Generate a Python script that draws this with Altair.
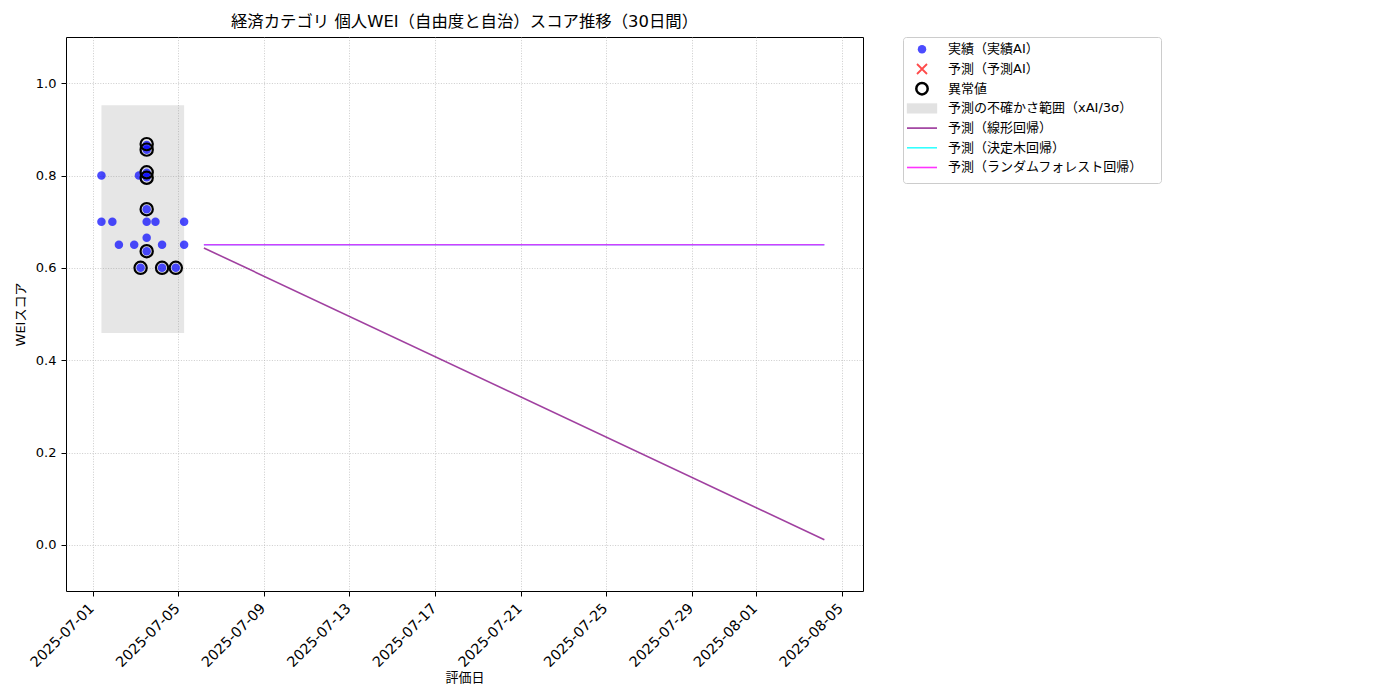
import altair as alt
import pandas as pd

FONT = "DejaVu Sans, Noto Sans CJK JP"

# ---- actual (実績AI) scores ----
actual_dates = [
    "2025-07-01T09:45:00", "2025-07-01T09:45:00", "2025-07-01T22:00:00",
    "2025-07-02T05:20:00", "2025-07-02T22:30:00", "2025-07-03T03:50:00",
    "2025-07-03T05:40:00", "2025-07-03T12:30:00", "2025-07-03T12:30:00",
    "2025-07-03T12:30:00", "2025-07-03T12:30:00", "2025-07-03T12:30:00",
    "2025-07-03T12:30:00", "2025-07-03T12:30:00", "2025-07-03T12:30:00",
    "2025-07-03T22:20:00", "2025-07-04T05:45:00", "2025-07-04T05:45:00",
    "2025-07-04T21:10:00", "2025-07-05T06:30:00", "2025-07-05T06:30:00",
]
actual_scores = [
    0.80, 0.70, 0.70,
    0.65, 0.65, 0.80,
    0.60, 0.866, 0.856,
    0.806, 0.796, 0.727,
    0.70, 0.665, 0.636,
    0.70, 0.65, 0.60,
    0.60, 0.70, 0.65,
]

# ---- anomalies (異常値) ----
anomaly_dates = [
    "2025-07-03T05:40:00", "2025-07-03T12:30:00", "2025-07-03T12:30:00",
    "2025-07-03T12:30:00", "2025-07-03T12:30:00", "2025-07-03T12:30:00",
    "2025-07-03T12:30:00", "2025-07-04T05:45:00", "2025-07-04T21:10:00",
]
anomaly_scores = [0.60, 0.868, 0.856, 0.807, 0.795, 0.727, 0.636, 0.60, 0.60]

# ---- uncertainty band (xAI / 3σ) ----
band_start = ["2025-07-01T09:45:00"]
band_end = ["2025-07-05T06:30:00"]
band_low = [0.459]
band_high = [0.952]

# ---- forecasts ----
forecast_dates = ["2025-07-06T04:40:00", "2025-08-04T04:40:00"]
linear_pred = [0.643, 0.011]
tree_pred = [0.650, 0.650]
forest_pred = [0.650, 0.650]
model_names = ["予測（線形回帰）", "予測（決定木回帰）", "予測（ランダムフォレスト回帰）"]
model_colors = ["#800080", "#00ffff", "#ff00ff"]

# ---- axis ticks ----
tick_dates = [(2025, 7, 1), (2025, 7, 5), (2025, 7, 9), (2025, 7, 13), (2025, 7, 17),
              (2025, 7, 21), (2025, 7, 25), (2025, 7, 29), (2025, 8, 1), (2025, 8, 5)]
y_ticks = [0.0, 0.2, 0.4, 0.6, 0.8, 1.0]

# ---- legend ----
legend_labels = ["実績（実績AI）", "予測（予測AI）", "異常値", "予測の不確かさ範囲（xAI/3σ）",
                 "予測（線形回帰）", "予測（決定木回帰）", "予測（ランダムフォレスト回帰）"]

actual_df = pd.DataFrame({"date": actual_dates, "score": actual_scores})
anom_df = pd.DataFrame({"date": anomaly_dates, "score": anomaly_scores})
band_df = pd.DataFrame({"start": band_start, "end": band_end, "low": band_low, "high": band_high})
pred_dfs = [
    pd.DataFrame({"date": forecast_dates, "score": vals})
    for vals in [linear_pred, tree_pred, forest_pred]
]

x_scale = alt.Scale(domain=[alt.DateTime(year=2025, month=6, date=29, hours=18),
                            alt.DateTime(year=2025, month=8, date=6, hours=0)])
y_scale = alt.Scale(domain=[-0.1, 1.1], nice=False, zero=False)

GRID = dict(grid=True, gridDash=[1, 1.6], gridColor="#b8b8b8", gridOpacity=0.9, gridWidth=0.8)

x_axis = alt.Axis(
    title="評価日", values=[alt.DateTime(year=y, month=m, date=d) for y, m, d in tick_dates],
    format="%Y-%m-%d", labelAngle=315, labelAlign="right", labelBaseline="top",
    tickColor="black", tickSize=5, labelPadding=5, labelOffset=-6, domain=False,
    labelFontSize=14.3, titleFontSize=13, labelColor="black", titleColor="black",
    labelFont=FONT, titleFont=FONT, titleFontWeight="normal", labelFlush=False,
    labelOverlap=False, titlePadding=2, **GRID,
)
y_axis = alt.Axis(
    title="WEIスコア", values=y_ticks, format=".1f",
    tickColor="black", tickSize=5, labelPadding=5, domain=False,
    labelFontSize=13, titleFontSize=13, labelColor="black", titleColor="black",
    labelFont=FONT, titleFont=FONT, titleFontWeight="normal", titlePadding=8, **GRID,
)

band = alt.Chart(band_df).mark_rect(color="gray", opacity=0.2).encode(
    x=alt.X("start:T", scale=x_scale, axis=x_axis),
    x2="end:T",
    y=alt.Y("low:Q", scale=y_scale, axis=y_axis),
    y2="high:Q",
)

points = alt.Chart(actual_df).mark_circle(color="blue", opacity=0.7, size=72).encode(
    x=alt.X("date:T", scale=x_scale),
    y=alt.Y("score:Q", scale=y_scale),
)

rings = alt.Chart(anom_df).mark_point(
    shape="circle", filled=False, stroke="black", strokeWidth=2.2, size=150, opacity=1
).encode(
    x=alt.X("date:T", scale=x_scale),
    y=alt.Y("score:Q", scale=y_scale),
)

lines = [
    alt.Chart(df).mark_line(color=c, strokeWidth=1.6, opacity=0.75).encode(
        x=alt.X("date:T", scale=x_scale),
        y=alt.Y("score:Q", scale=y_scale),
    )
    for df, c in zip(pred_dfs, model_colors)
]

main = alt.layer(band, points, *lines, rings).properties(
    width=797, height=554,
    title=alt.TitleParams(
        "経済カテゴリ 個人WEI（自由度と自治）スコア推移（30日間）",
        fontSize=16.4, font=FONT, fontWeight="normal", color="black",
        anchor="middle", frame="group", offset=7,
    ),
    view=alt.ViewBackground(stroke="black", strokeWidth=1),
)

# ---- legend panel ----
leg_df = pd.DataFrame({"label": legend_labels, "idx": list(range(len(legend_labels)))})
ly = alt.Scale(domain=[-0.624, 6.787], reverse=True, nice=False, zero=False)
LX = 19

def item(i):
    return alt.Chart(leg_df).transform_filter(f"datum.idx == {i}")

leg_text = alt.Chart(leg_df).mark_text(
    align="left", baseline="middle", fontSize=13, font=FONT, color="black"
).encode(
    x=alt.value(45), y=alt.Y("idx:Q", scale=ly, axis=None), text="label:N"
)
leg_dot = item(0).mark_circle(color="blue", opacity=0.7, size=72).encode(
    x=alt.value(LX), y=alt.Y("idx:Q", scale=ly, axis=None))
leg_x = item(1).mark_point(
    shape="M-1,-1L1,1M-1,1L1,-1", filled=False, stroke="red", strokeWidth=1.8, opacity=0.7, size=100
).encode(x=alt.value(LX), y=alt.Y("idx:Q", scale=ly, axis=None))
leg_ring = item(2).mark_point(
    shape="circle", filled=False, stroke="black", strokeWidth=2.5, size=130, opacity=1
).encode(x=alt.value(LX), y=alt.Y("idx:Q", scale=ly, axis=None))
leg_rect = item(3).mark_point(
    shape="M-1,-0.33L1,-0.33L1,0.33L-1,0.33Z", filled=True, fill="gray", opacity=0.22,
    stroke="gray", strokeWidth=0.3, size=900
).encode(x=alt.value(LX), y=alt.Y("idx:Q", scale=ly, axis=None))
leg_lines = [
    item(4 + k).mark_rule(color=c, strokeWidth=1.6, opacity=0.8).encode(
        x=alt.value(4), x2=alt.value(34), y=alt.Y("idx:Q", scale=ly, axis=None))
    for k, c in enumerate(model_colors)
]

legend_panel = alt.layer(leg_rect, leg_dot, leg_x, leg_ring, *leg_lines, leg_text).properties(
    width=258, height=146,
    title=alt.TitleParams(" ", fontSize=16.4, font=FONT, offset=7),
    view=alt.ViewBackground(stroke="#cccccc", strokeWidth=1, cornerRadius=3),
)

chart = alt.hconcat(main, legend_panel, spacing=38).properties(
    padding={"left": 5, "top": 5, "right": 5, "bottom": 5}
).configure(font=FONT).configure_view(stroke=None)

chart.save("out.html", embed_options={"renderer": "svg", "actions": False})
